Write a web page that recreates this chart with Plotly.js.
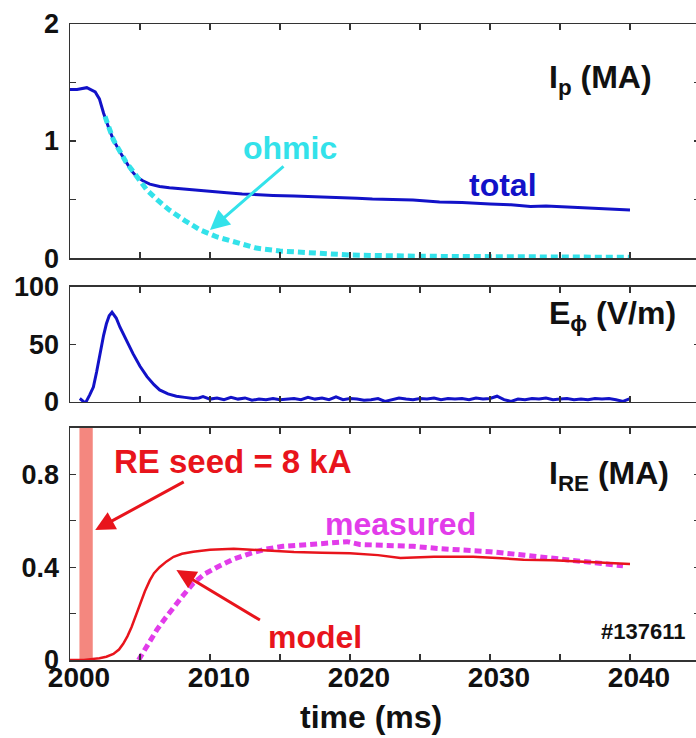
<!DOCTYPE html>
<html>
<head>
<meta charset="utf-8">
<script src="https://cdn.plot.ly/plotly-3.0.1.min.js"></script>
<style>html,body{margin:0;padding:0;overflow:hidden;background:#fff;}#chart{width:700px;height:738px;}</style>
</head>
<body>
<div id="chart"></div>
<script>
// ---- data ----
const totalT = [2000, 2000.5, 2001.2, 2001.8, 2002.1, 2002.4, 2002.8, 2003.1, 2003.6, 2004.05, 2004.4, 2004.76, 2005.2, 2005.7, 2006.4, 2007.1, 2008, 2008.8, 2010, 2011.2, 2012.3, 2013.3, 2014.5, 2016, 2017.5, 2019.3, 2020.5, 2021.6, 2023, 2024.5, 2026.4, 2028, 2030, 2031.5, 2032.9, 2034, 2035.9, 2037.5, 2039, 2040];
const totalV = [1.44, 1.44, 1.456, 1.42, 1.36, 1.237, 1.1, 1.01, 0.9, 0.81, 0.745, 0.695, 0.66, 0.632, 0.612, 0.60, 0.59, 0.58, 0.568, 0.558, 0.548, 0.54, 0.535, 0.53, 0.525, 0.518, 0.512, 0.505, 0.50, 0.495, 0.48, 0.475, 0.462, 0.455, 0.44, 0.445, 0.435, 0.425, 0.418, 0.41];

const ohmicT = [2002.5, 2003.1, 2004.0, 2004.8, 2005.5, 2006.3, 2007.1, 2008.2, 2009.3, 2010.5, 2011.6, 2013.3, 2015, 2017.5, 2020, 2025, 2030, 2035, 2040];
const ohmicV = [1.21, 1.01, 0.82, 0.69, 0.58, 0.49, 0.41, 0.32, 0.24, 0.18, 0.14, 0.085, 0.06, 0.04, 0.026, 0.015, 0.01, 0.008, 0.006];

const eT = [2000.7, 2001.1, 2001.4, 2001.67, 2001.9, 2002.14, 2002.4, 2002.6, 2002.8, 2003.0, 2003.3, 2003.57, 2004.0, 2004.5, 2005.0, 2005.5, 2006.0, 2006.4, 2007.0, 2007.6, 2008.2, 2008.8, 2009.2, 2009.5, 2010,
  2010.5, 2011, 2011.5, 2012, 2012.5, 2013, 2013.5, 2014, 2014.5, 2015, 2015.5, 2016, 2016.5, 2017, 2017.5, 2018, 2018.5, 2019, 2019.5, 2020,
  2020.5, 2021, 2021.5, 2022, 2022.5, 2023, 2023.5, 2024, 2024.5, 2025, 2025.5, 2026, 2026.5, 2027, 2027.5, 2028, 2028.5, 2029, 2029.5, 2030,
  2030.5, 2031, 2031.5, 2032, 2032.5, 2033, 2033.5, 2034, 2034.5, 2035, 2035.5, 2036, 2036.5, 2037, 2037.5, 2038, 2038.5, 2039, 2039.5, 2040];
const eV = [3, -1, 6, 13, 26, 42, 58, 68, 75, 78, 73, 65, 54, 42, 31, 22, 15, 10.5, 7, 5, 4, 3, 3.5, 4.6, 2.5,
  3.5, 2, 4, 2.5, 3.5, 1.5, 2.5, 2, 3, 2, 2.5, 3, 2, 4, 2.5, 3.5, 2, 4.5, 2, 3,
  2.5, 1.5, 2, 3, 0.5, 2, 3.5, 2.5, 2, 3, 2.5, 3.5, 2, 3, 2.5, 3, 2, 3.5, 2.5, 3,
  5, 2, 0.5, 2.5, 2, 3, 2.5, 3.5, 2, 2.5, 3, 2, 2.5, 2, 3, 2.5, 3, 2, 0.5, 3];

const modelT = [2000, 2001, 2002.1, 2002.6, 2003.1, 2003.5, 2003.8, 2004.1, 2004.4, 2004.7, 2005.0, 2005.35, 2005.7, 2006.0, 2006.4, 2006.9, 2007.4, 2008.0, 2008.8, 2010, 2011.7, 2013, 2014, 2016, 2018, 2020, 2022, 2023.6, 2026, 2028.8, 2030.5, 2032.4, 2034.5, 2036.4, 2038, 2040];
const modelV = [0, 0, 0.008, 0.014, 0.026, 0.045, 0.07, 0.102, 0.142, 0.19, 0.242, 0.296, 0.343, 0.374, 0.40, 0.425, 0.445, 0.458, 0.467, 0.475, 0.48, 0.476, 0.47, 0.465, 0.462, 0.46, 0.452, 0.44, 0.445, 0.445, 0.44, 0.432, 0.43, 0.424, 0.42, 0.414];

const measT = [2004.9, 2005.5, 2006.2, 2006.8, 2007.4, 2008.1, 2008.8, 2009.6, 2010.5, 2011.7, 2012.9, 2014, 2015.2, 2016.4, 2017.6, 2018.7, 2019.8, 2020.7, 2022, 2023.1, 2024.5, 2026.4, 2028, 2030, 2031.8, 2033.6, 2035.3, 2037.1, 2038.5, 2039.5];
const measV = [0, 0.065, 0.13, 0.18, 0.23, 0.28, 0.33, 0.37, 0.40, 0.435, 0.46, 0.478, 0.49, 0.497, 0.50, 0.505, 0.51, 0.498, 0.496, 0.496, 0.49, 0.48, 0.475, 0.467, 0.456, 0.445, 0.435, 0.424, 0.415, 0.406];

const seedT = [2001.15];
const seedWidth = [0.95];
const seedV = [1.0];

const xTickVals = [2000, 2005, 2010, 2015, 2020, 2025, 2030, 2035, 2040];
const xTickText = ['2000', '', '2010', '', '2020', '', '2030', '', '2040'];
const ipTickVals = [0, 0.5, 1, 1.5, 2];
const ipTickText = ['0', '', '1', '', '2'];
const eTickVals = [0, 50, 100];
const eTickText = ['0', '50', '100'];
const reTickVals = [0, 0.2, 0.4, 0.6, 0.8, 1.0];
const reTickText = ['0', '', '0.4', '', '0.8', ''];

// ---- style ----
const BLUE = '#1212C8', CYAN = '#33E2EA', RED = '#E8141C', MAG = '#E23CEA', SALMON = '#F4877F';
const SANS = '"Liberation Sans", Arial, Helvetica, sans-serif';
const AX = '#333';

const traces = [
  {x: totalT, y: totalV, xaxis: 'x3', yaxis: 'y', mode: 'lines', line: {color: BLUE, width: 3}},
  {x: ohmicT, y: ohmicV, xaxis: 'x3', yaxis: 'y', mode: 'lines', line: {color: CYAN, width: 5, dash: '7px,4px'}},
  {x: eT, y: eV, xaxis: 'x2', yaxis: 'y2', mode: 'lines', line: {color: BLUE, width: 3}},
  {type: 'bar', x: seedT, y: seedV, width: seedWidth, xaxis: 'x', yaxis: 'y3', marker: {color: SALMON, line: {width: 0}}},
  {x: measT, y: measV, xaxis: 'x', yaxis: 'y3', mode: 'lines', line: {color: MAG, width: 5, dash: '7px,4px'}},
  {x: modelT, y: modelV, xaxis: 'x', yaxis: 'y3', mode: 'lines', line: {color: RED, width: 2.5}}
];

function xax(extra) {
  return Object.assign({
    range: [2000, 2045], tickvals: xTickVals, ticktext: xTickText,
    ticks: 'inside', ticklen: 6, tickwidth: 1.3, tickcolor: AX,
    showline: true, linecolor: AX, linewidth: 1.5, mirror: 'ticks',
    showgrid: false, zeroline: false, fixedrange: true
  }, extra);
}
function yax(extra) {
  return Object.assign({
    ticks: 'inside', ticklen: 6, tickwidth: 1.3, tickcolor: AX,
    showline: true, linecolor: AX, linewidth: 1.5, mirror: 'ticks',
    showgrid: false, zeroline: false, fixedrange: true,
    tickfont: {family: SANS, size: 27, color: '#111', weight: 'bold'},
    ticklabelstandoff: 4
  }, extra);
}

const ann = (o) => Object.assign({showarrow: false, font: {family: SANS, size: 32, color: '#111', weight: 'bold'}}, o);

const layout = {
  width: 700, height: 738,
  margin: {l: 70, r: 0, t: 24, b: 78},
  paper_bgcolor: '#fff', plot_bgcolor: '#fff',
  showlegend: false,
  xaxis: xax({anchor: 'y3', showticklabels: true, ticklabelshift: 9, ticklabelstandoff: -8,
    tickfont: {family: SANS, size: 28, color: '#111', weight: 'bold'}}),
  xaxis2: xax({anchor: 'y2', matches: 'x', showticklabels: false}),
  xaxis3: xax({anchor: 'y', matches: 'x', showticklabels: false}),
  yaxis: yax({domain: [0.632, 1], range: [0, 2], tickvals: ipTickVals, ticktext: ipTickText}),
  yaxis2: yax({domain: [0.4057, 0.5865], range: [0, 100], tickvals: eTickVals, ticktext: eTickText}),
  yaxis3: yax({domain: [0, 0.3648], range: [0, 1], tickvals: reTickVals, ticktext: reTickText}),
  annotations: [
    ann({xref: 'x3', yref: 'y', x: 2034.1, y: 1.53, xanchor: 'left', yanchor: 'middle', text: 'I<sub>p</sub> (MA)'}),
    ann({xref: 'x3', yref: 'y', x: 2015.7, y: 0.94, xanchor: 'center', yanchor: 'middle', text: 'ohmic', font: {family: SANS, size: 32, color: CYAN, weight: 'bold'}}),
    ann({xref: 'x3', yref: 'y', x: 2030.96, y: 0.62, xanchor: 'center', yanchor: 'middle', text: 'total', font: {family: SANS, size: 32, color: BLUE, weight: 'bold'}}),
    {xref: 'x3', yref: 'y', x: 2010.0, y: 0.24, text: '', showarrow: true, ax: 75, ay: -65, arrowcolor: CYAN, arrowwidth: 3, arrowhead: 2, arrowsize: 1.3},
    ann({xref: 'x2', yref: 'y2', x: 2034.1, y: 75, xanchor: 'left', yanchor: 'middle', text: 'E<sub>ϕ</sub> (V/m)'}),
    ann({xref: 'x', yref: 'y3', x: 2003.0, y: 0.856, xanchor: 'left', yanchor: 'middle', text: 'RE seed = 8 kA', font: {family: SANS, size: 33, color: RED, weight: 'bold'}}),
    {xref: 'x', yref: 'y3', x: 2001.8, y: 0.56, text: '', showarrow: true, ax: 90, ay: -49, arrowcolor: RED, arrowwidth: 3, arrowhead: 2, arrowsize: 1.3},
    ann({xref: 'x', yref: 'y3', x: 2034.1, y: 0.795, xanchor: 'left', yanchor: 'middle', text: 'I<sub>RE</sub> (MA)'}),
    ann({xref: 'x', yref: 'y3', x: 2023.6, y: 0.588, xanchor: 'center', yanchor: 'middle', text: 'measured', font: {family: SANS, size: 32, color: MAG, weight: 'bold'}}),
    ann({xref: 'x', yref: 'y3', x: 2017.5, y: 0.101, xanchor: 'center', yanchor: 'middle', text: 'model', font: {family: SANS, size: 32, color: RED, weight: 'bold'}}),
    {xref: 'x', yref: 'y3', x: 2007.6, y: 0.388, text: '', showarrow: true, ax: 85, ay: 51, arrowcolor: RED, arrowwidth: 3, arrowhead: 2, arrowsize: 1.3},
    ann({xref: 'x', yref: 'y3', x: 2044.1, y: 0.123, xanchor: 'right', yanchor: 'middle', text: '#137611', font: {family: SANS, size: 22, color: '#111', weight: 'bold'}}),
    ann({xref: 'paper', yref: 'paper', x: 0.478, y: -0.09, xanchor: 'center', yanchor: 'middle', text: 'time (ms)'})
  ]
};

Plotly.newPlot('chart', traces, layout, {displayModeBar: false, staticPlot: true});
</script>
</body>
</html>
